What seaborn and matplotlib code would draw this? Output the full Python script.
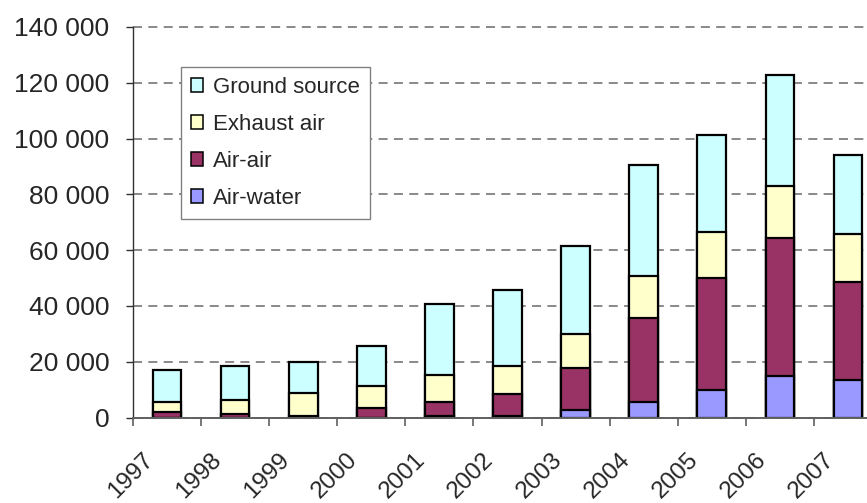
import matplotlib
matplotlib.use("Agg")
import matplotlib.pyplot as plt
from matplotlib.patches import Patch
from matplotlib.ticker import FixedLocator
from matplotlib.transforms import ScaledTranslation
import seaborn as sns
import pandas as pd
import numpy as np

# Heat pump sales per year, by type
years = ["1997", "1998", "1999", "2000", "2001", "2002",
         "2003", "2004", "2005", "2006", "2007"]
air_water = [0, 0, 0, 0, 400, 600, 2600, 5500, 9800, 14900, 13400]
air_air = [2000, 1350, 400, 3400, 5200, 7800, 15200, 30200, 40100, 49300, 35200]
exhaust_air = [3600, 4850, 8300, 8050, 9600, 10200, 12050, 15000, 16500, 18700, 17300]
ground_source = [11500, 12400, 11300, 14350, 25500, 27100, 31550, 39900, 34900, 40000, 28300]

series_names = ["Air-water", "Air-air", "Exhaust air", "Ground source"]
series_colors = ["#9999FF", "#993366", "#FFFFCC", "#CCFFFF"]

ytick_values = [0, 20000, 40000, 60000, 80000, 100000, 120000, 140000]
ytick_labels = ["0", "20 000", "40 000", "60 000", "80 000",
                "100 000", "120 000", "140 000"]

sns.set_theme(style="white")
plt.rcParams["font.family"] = ["Liberation Sans", "DejaVu Sans"]

df = pd.DataFrame({
    "year": years,
    "Air-water": air_water,
    "Air-air": air_air,
    "Exhaust air": exhaust_air,
    "Ground source": ground_source,
})
cum = df[series_names].cumsum(axis=1)

fig = plt.figure(figsize=(8.67, 5.03), dpi=100)
ax = fig.add_axes([133 / 867, 85.5 / 503, 749 / 867, 390.5 / 503])

# stacked bars: draw cumulative totals from the top layer down
for name, color in reversed(list(zip(series_names, series_colors))):
    sns.barplot(x=df["year"], y=cum[name], color=color, saturation=1,
                width=0.42, edgecolor="black", linewidth=1.6, ax=ax,
                order=years)

ax.set_xlim(-0.5, len(years) - 0.5)
ax.set_ylim(0, 140000)
ax.set_xlabel("")
ax.set_ylabel("")

ax.set_yticks(ytick_values)
ax.set_yticklabels(ytick_labels, fontsize=19)
ax.yaxis.grid(True, color="#808080", linewidth=1.3, linestyle=(0, (5, 3.5)))
for gl in ax.get_ygridlines():
    gl.set_clip_on(False)
ax.set_axisbelow(True)

ax.set_xticks(range(len(years)))
ax.set_xticklabels(years, fontsize=17.5, rotation=45, ha="right",
                   rotation_mode="anchor")
ax.xaxis.set_minor_locator(FixedLocator(np.arange(-0.5, len(years), 1.0)))
ax.tick_params(axis="x", which="major", length=0, pad=14)
ax.tick_params(axis="x", which="minor", length=6, width=1.2,
               color="#606060", direction="out", bottom=True)
ax.tick_params(axis="y", length=5, width=1.0, color="#303030",
               direction="out", left=True, pad=12)

# year labels sit down and to the left of each bar centre
shift = ScaledTranslation(-25 / 100, -12 / 100, fig.dpi_scale_trans)
for lbl in ax.get_xticklabels():
    lbl.set_transform(lbl.get_transform() + shift)

for side in ["top", "right"]:
    ax.spines[side].set_visible(False)
ax.spines["left"].set_color("#303030")
ax.spines["left"].set_linewidth(1.0)
ax.spines["bottom"].set_color("#606060")
ax.spines["bottom"].set_linewidth(1.4)

handles = [Patch(facecolor=c, edgecolor="black", linewidth=1.1, label=n)
           for n, c in zip(series_names, series_colors)][::-1]
leg = ax.legend(handles=handles, loc="upper left",
                bbox_to_anchor=(181 / 867, 1 - 67 / 503),
                bbox_transform=fig.transFigure, fontsize=16,
                frameon=True, fancybox=False, framealpha=1,
                edgecolor="#808080", borderpad=0.45, labelspacing=0.72,
                handlelength=0.55, handleheight=0.55, handletextpad=0.45,
                borderaxespad=0)
leg.get_frame().set_linewidth(1.0)

fig.savefig("out.png", dpi=100)
